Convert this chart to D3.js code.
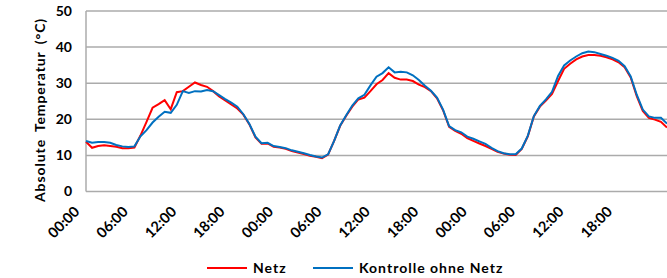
<!DOCTYPE html>
<html>
<head>
<meta charset="utf-8">
<script src="https://cdn.jsdelivr.net/npm/d3@7"></script>
<style>
  body { margin: 0; background: #fff; }
  text { font-family: Lato, "Open Sans", sans-serif; font-weight: bold; fill: #000; }
</style>
</head>
<body>
<svg width="667" height="278"></svg>
<script>
// one tick label every 8 samples (6 h)
var tickLabels = ["00:00", "06:00", "12:00", "18:00", "00:00", "06:00", "12:00", "18:00", "00:00", "06:00", "12:00", "18:00"];

var netz = [13.8, 12.1, 12.6, 12.8, 12.6, 12.4, 12.0, 12.0, 12.2, 15.5,
  19.3, 23.2, 24.2, 25.3, 22.8, 27.5, 27.8, 29.0, 30.2, 29.5,
  29.0, 27.8, 26.3, 25.2, 24.1, 23.0, 21.3, 18.6, 15.0, 13.2,
  13.3, 12.4, 12.2, 11.8, 11.2, 10.8, 10.4, 9.9, 9.6, 9.2,
  10.2, 14.0, 18.2, 21.0, 23.5, 25.5, 26.0, 27.8, 29.7, 30.9,
  32.8, 31.5, 31.0, 31.0, 30.6, 29.6, 28.9, 27.8, 25.8, 22.5,
  17.9, 16.8, 16.0, 14.8, 14.0, 13.3, 12.6, 11.8, 11.0, 10.5,
  10.2, 10.1, 11.8, 15.3, 20.8, 23.5, 25.2, 27.0, 30.6, 34.0,
  35.4, 36.6, 37.4, 37.8, 37.8, 37.6, 37.2, 36.6, 35.8, 34.4,
  31.6, 26.4, 22.3, 20.4, 19.9, 19.3, 17.7];

var kontrolle = [14.0, 13.5, 13.7, 13.7, 13.5, 12.9, 12.5, 12.3, 12.5, 15.3,
  17.0, 19.1, 20.7, 22.1, 21.8, 24.0, 27.8, 27.3, 27.8, 27.7,
  28.1, 27.8, 26.7, 25.6, 24.6, 23.5, 21.4, 18.7, 15.2, 13.4,
  13.5, 12.6, 12.3, 12.0, 11.4, 11.0, 10.6, 10.1, 9.7, 9.4,
  10.3, 14.0, 18.3, 21.1, 23.8, 25.8, 26.8, 29.4, 31.8, 32.8,
  34.4, 33.0, 33.2, 33.0, 32.2, 30.9, 29.3, 27.9, 26.0, 22.7,
  18.1, 17.0, 16.4, 15.2, 14.6, 13.9, 13.2, 12.1, 11.2, 10.6,
  10.3, 10.3, 11.9, 15.4, 20.9, 23.7, 25.5, 27.6, 32.0, 34.9,
  36.3, 37.4, 38.3, 38.8, 38.6, 38.1, 37.6, 37.0, 36.2, 34.7,
  31.9, 26.8, 22.7, 20.8, 20.4, 20.4, 18.8];

(function() {
  var svg = d3.select("svg"),
    mLeft = 86, mRight = 667, mTop = 11, mBottom = 191.5;

  var x = d3.scaleLinear().domain([0, 96]).range([mLeft, mRight]);
  var y = d3.scaleLinear().domain([0, 50]).range([mBottom, mTop]);

  // gridlines
  svg.append("g")
    .selectAll("line")
    .data(y.ticks(5))
    .enter().append("line")
      .attr("x1", mLeft).attr("x2", mRight)
      .attr("y1", function(d) { return y(d); })
      .attr("y2", function(d) { return y(d); })
      .attr("stroke", "#ababab")
      .attr("stroke-width", 1.5);

  svg.append("line")
    .attr("x1", mLeft).attr("x2", mLeft)
    .attr("y1", mTop).attr("y2", mBottom)
    .attr("stroke", "#ababab").attr("stroke-width", 1.5);

  // y axis labels
  var yAxis = svg.append("g")
    .attr("transform", "translate(" + mLeft + ",0)")
    .call(d3.axisLeft(y).ticks(5).tickSize(0).tickPadding(14));
  yAxis.select(".domain").remove();
  yAxis.selectAll("text").style("font-size", "14px");

  // x axis labels, rotated
  var xAxis = svg.append("g")
    .attr("transform", "translate(0," + mBottom + ")")
    .call(d3.axisBottom(x)
      .tickValues(d3.range(tickLabels.length).map(function(i) { return i * 8; }))
      .tickFormat(function(d) { return tickLabels[d / 8]; })
      .tickSize(0));
  xAxis.select(".domain").remove();
  xAxis.selectAll("text")
    .style("font-size", "14.5px")
    .attr("text-anchor", "end")
    .attr("dy", null).attr("y", 0)
    .attr("transform", "translate(-6,21) rotate(-45)");

  svg.append("text")
    .attr("transform", "translate(45,110) rotate(-90)")
    .attr("text-anchor", "middle")
    .style("font-size", "14px")
    .style("letter-spacing", "0.9px")
    .style("word-spacing", "3px")
    .text("Absolute Temperatur (°C)");

  var line = d3.line()
    .x(function(d, i) { return x(i); })
    .y(function(d) { return y(d); });

  svg.append("path").datum(netz)
    .attr("d", line)
    .attr("fill", "none").attr("stroke", "#ff0000").attr("stroke-width", 2);

  svg.append("path").datum(kontrolle)
    .attr("d", line)
    .attr("fill", "none").attr("stroke", "#0070c0").attr("stroke-width", 2);

  // legend
  var legend = [{name: "Netz", color: "#ff0000", x: 207}, {name: "Kontrolle ohne Netz", color: "#0070c0", x: 313}];
  var lg = svg.selectAll(".lg").data(legend).enter().append("g")
    .attr("transform", function(d) { return "translate(" + d.x + ",268)"; });
  lg.append("line").attr("x1", 0).attr("x2", 40).attr("y1", 0).attr("y2", 0)
    .attr("stroke", function(d) { return d.color; }).attr("stroke-width", 2);
  lg.append("text").attr("x", 46).attr("y", 5)
    .style("font-size", "14px")
    .style("letter-spacing", "1px")
    .text(function(d) { return d.name; });
})();
</script>
</body>
</html>
